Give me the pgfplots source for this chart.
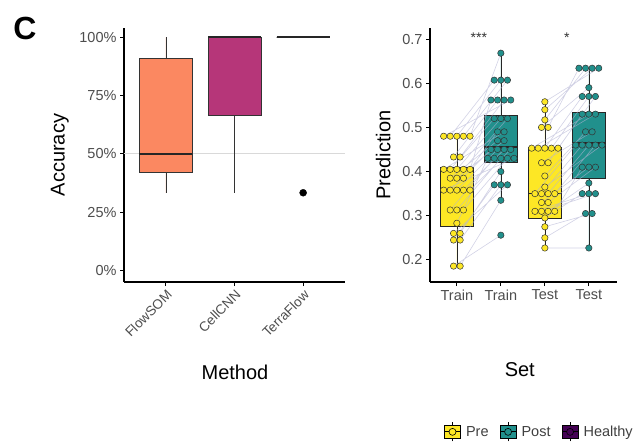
\documentclass[border=0pt]{standalone}
\usepackage{pgfplots}
\pgfplotsset{compat=1.18}
\usepgfplotslibrary{statistics}
\usepackage{fontspec}
\setmainfont{Liberation Sans}
\definecolor{flowsom}{HTML}{FB8861}
\definecolor{cellcnn}{HTML}{B63679}
\definecolor{preC}{HTML}{FDE725}
\definecolor{postC}{HTML}{21908C}
\definecolor{healthyC}{HTML}{440154}
\definecolor{tickgrey}{HTML}{4D4D4D}
\definecolor{pairline}{HTML}{B4B4D4}

\pgfplotsset{
  mystyle/.style={
    scale only axis,
    axis x line*=bottom, axis y line*=left,
    axis line style={line width=1.1pt, black},
    tick align=outside,
    major tick length=4pt,
    tick style={line width=0.9pt, black},
    tick label style={font=\fontsize{14.5}{16}\selectfont, text=tickgrey},
    label style={font=\fontsize{20}{22}\selectfont},
    clip=false,
    boxplot/draw direction=y,
    boxplot/whisker extend=0,
  },
  boxkey/.style={legend image code/.code={
    \draw[black, line width=0.7pt] (8pt,-9pt) -- (8pt,10pt);
    \draw[fill=#1, draw=black, line width=0.7pt] (0pt,-6pt) rectangle (16pt,7pt);
    \draw[black, line width=1pt] (0pt,0.5pt) -- (16pt,0.5pt);
    \draw[fill=#1, draw=black, line width=0.6pt] (8pt,0.5pt) circle (3.5pt);
  }},
}

\begin{document}
\begin{tikzpicture}
\useasboundingbox (0pt,0pt) rectangle (636pt,-444pt);
\node[font=\fontsize{32}{34}\selectfont\bfseries] at (25pt,-28pt) {C};

% ---------------- left panel ----------------
\begin{axis}[mystyle,
  at={(124pt,-282pt)}, anchor=south west,
  width=221pt, height=254pt,
  xmin=0.39, xmax=3.61, ymin=-5, ymax=104,
  xtick={1,2,3}, xticklabels={FlowSOM,CellCNN,TerraFlow},
  xticklabel style={rotate=45, anchor=north east, inner sep=2pt, font=\fontsize{13.5}{15}\selectfont},
  ytick={0,25,50,75,100}, yticklabels={0\%,25\%,50\%,75\%,100\%},
  ylabel={Accuracy}, xlabel={Method},
  ylabel style={at={(axis description cs:-0.29,0.5)}, anchor=center},
  xlabel style={at={(axis description cs:0.502,-0.354)}, anchor=center},
  boxplot/box extend=0.77,
]
\addplot[black!15, line width=0.9pt, forget plot] coordinates {(0.39,50) (3.61,50)};
\addplot[boxplot prepared={draw position=1, lower whisker=33.3, lower quartile=42, median=50, upper quartile=91, upper whisker=100},
  draw=black!80, fill=flowsom, line width=0.7pt, boxplot/every median/.style={line width=2.2pt, draw=black!85}, forget plot] coordinates {};
\addplot[boxplot prepared={draw position=2, lower whisker=33.3, lower quartile=66.7, median=100, upper quartile=100, upper whisker=100},
  draw=black!80, fill=cellcnn, line width=0.7pt, boxplot/every median/.style={line width=2.2pt, draw=black!85}, forget plot] coordinates {};
\addplot[boxplot prepared={draw position=3, lower whisker=100, lower quartile=100, median=100, upper quartile=100, upper whisker=100},
  draw=black!80, fill=white, line width=0.7pt, boxplot/every median/.style={line width=2.2pt, draw=black!85}, forget plot] coordinates {};
\addplot[only marks, mark=*, mark size=3.5pt, black, forget plot] coordinates {(3,33.3)};
\end{axis}

% ---------------- right panel ----------------
\begin{axis}[mystyle,
  at={(430pt,-282pt)}, anchor=south west,
  width=187pt, height=254pt,
  xmin=0.39, xmax=4.64, ymin=0.15, ymax=0.725,
  xtick={1,2,3,4}, xticklabels={Train,Train,Test,Test},
  ytick={0.2,0.3,0.4,0.5,0.6,0.7}, yticklabels={0.2,0.3,0.4,0.5,0.6,0.7},
  ylabel={Prediction}, xlabel={Set},
  ylabel style={at={(axis description cs:-0.25,0.5)}, anchor=center},
  xlabel style={at={(axis description cs:0.48,-0.346)}, anchor=center},
  boxplot/box extend=0.75,
  unbounded coords=jump,
  legend columns=3,
  legend style={at={(axis description cs:1.096,-0.59)}, anchor=east, draw=none, fill=none,
    font=\fontsize{14.5}{16}\selectfont, text=black!75, inner sep=0pt,
    /tikz/every odd column/.append style={column sep=3pt},
    /tikz/every even column/.append style={column sep=9pt}},
  legend cell align=left,
]
% boxes
\addplot[boxplot prepared={draw position=1, lower whisker=0.186, lower quartile=0.275, median=0.358, upper quartile=0.41, upper whisker=0.48},
  draw=black!85, fill=preC, line width=0.6pt, boxplot/every median/.style={line width=1.6pt}, forget plot] coordinates {};
\addplot[boxplot prepared={draw position=2, lower whisker=0.335, lower quartile=0.42, median=0.455, upper quartile=0.528, upper whisker=0.668},
  draw=black!85, fill=postC, line width=0.6pt, boxplot/every median/.style={line width=1.6pt}, forget plot] coordinates {};
\addplot[boxplot prepared={draw position=3, lower whisker=0.227, lower quartile=0.295, median=0.35, upper quartile=0.455, upper whisker=0.558},
  draw=black!85, fill=preC, line width=0.6pt, boxplot/every median/.style={line width=1.6pt}, forget plot] coordinates {};
\addplot[boxplot prepared={draw position=4, lower whisker=0.227, lower quartile=0.385, median=0.465, upper quartile=0.535, upper whisker=0.634},
  draw=black!85, fill=postC, line width=0.6pt, boxplot/every median/.style={line width=1.6pt}, forget plot] coordinates {};

% paired lines
\addplot[pairline, line width=0.6pt, opacity=0.6, forget plot] coordinates {
(0.925,0.186) (2.00,0.256) (1,nan)
(1.075,0.186) (2.00,0.335) (1,nan)
(0.925,0.245) (1.85,0.37) (1,nan)
(1.075,0.245) (2.00,0.37) (1,nan)
(0.925,0.26) (2.15,0.37) (1,nan)
(1.075,0.26) (2.00,0.40) (1,nan)
(1.00,0.283) (1.70,0.43) (1,nan)
(0.85,0.313) (1.85,0.43) (1,nan)
(1.00,0.313) (2.00,0.43) (1,nan)
(1.15,0.313) (2.15,0.43) (1,nan)
(0.70,0.358) (2.30,0.43) (1,nan)
(0.85,0.358) (1.775,0.45) (1,nan)
(1.00,0.358) (1.925,0.45) (1,nan)
(1.15,0.358) (2.075,0.45) (1,nan)
(1.30,0.358) (2.225,0.45) (1,nan)
(0.85,0.385) (1.925,0.47) (1,nan)
(1.00,0.385) (2.075,0.47) (1,nan)
(1.15,0.385) (1.925,0.49) (1,nan)
(0.70,0.405) (2.075,0.49) (1,nan)
(0.85,0.405) (1.85,0.52) (1,nan)
(1.00,0.405) (2.00,0.52) (1,nan)
(1.15,0.405) (2.15,0.52) (1,nan)
(1.30,0.405) (1.775,0.562) (1,nan)
(0.925,0.433) (1.925,0.562) (1,nan)
(1.075,0.433) (2.075,0.562) (1,nan)
(0.70,0.48) (2.225,0.562) (1,nan)
(0.85,0.48) (1.85,0.607) (1,nan)
(1.00,0.48) (2.00,0.607) (1,nan)
(1.15,0.48) (2.15,0.607) (1,nan)
(1.30,0.48) (2.00,0.668) (1,nan)
(3.00,0.227) (4.00,0.227) (1,nan)
(3.00,0.25) (3.925,0.305) (1,nan)
(3.00,0.275) (4.075,0.305) (1,nan)
(3.00,0.295) (3.85,0.35) (1,nan)
(2.775,0.31) (4.00,0.35) (1,nan)
(2.925,0.31) (4.15,0.35) (1,nan)
(3.075,0.31) (4.00,0.374) (1,nan)
(3.225,0.31) (3.85,0.41) (1,nan)
(2.925,0.33) (4.00,0.41) (1,nan)
(3.075,0.33) (4.15,0.41) (1,nan)
(2.775,0.35) (3.70,0.46) (1,nan)
(2.925,0.35) (3.85,0.46) (1,nan)
(3.075,0.35) (4.00,0.46) (1,nan)
(3.225,0.35) (4.15,0.46) (1,nan)
(3.00,0.365) (4.30,0.46) (1,nan)
(3.00,0.39) (3.925,0.49) (1,nan)
(2.925,0.42) (4.075,0.49) (1,nan)
(3.075,0.42) (3.85,0.53) (1,nan)
(2.70,0.453) (4.00,0.53) (1,nan)
(2.85,0.453) (4.15,0.53) (1,nan)
(3.00,0.453) (3.85,0.57) (1,nan)
(3.15,0.453) (4.00,0.57) (1,nan)
(3.30,0.453) (4.15,0.57) (1,nan)
(2.925,0.50) (4.00,0.59) (1,nan)
(3.075,0.50) (3.775,0.634) (1,nan)
(3.00,0.517) (3.925,0.634) (1,nan)
(3.00,0.54) (4.075,0.634) (1,nan)
(3.00,0.558) (4.225,0.634)
};

% points: pre
\addplot[only marks, mark=*, mark size=3.2pt, mark options={fill=preC, draw=black!80, line width=0.5pt}, forget plot] coordinates {
(0.925,0.186) (1.075,0.186) (0.925,0.245) (1.075,0.245) (0.925,0.26) (1.075,0.26)
(1.00,0.283) (0.85,0.313) (1.00,0.313) (1.15,0.313)
(0.70,0.358) (0.85,0.358) (1.00,0.358) (1.15,0.358) (1.30,0.358)
(0.85,0.385) (1.00,0.385) (1.15,0.385)
(0.70,0.405) (0.85,0.405) (1.00,0.405) (1.15,0.405) (1.30,0.405)
(0.925,0.433) (1.075,0.433)
(0.70,0.48) (0.85,0.48) (1.00,0.48) (1.15,0.48) (1.30,0.48)
(3.00,0.227) (3.00,0.25) (3.00,0.275) (3.00,0.295)
(2.775,0.31) (2.925,0.31) (3.075,0.31) (3.225,0.31)
(2.925,0.33) (3.075,0.33)
(2.775,0.35) (2.925,0.35) (3.075,0.35) (3.225,0.35)
(3.00,0.365) (3.00,0.39) (2.925,0.42) (3.075,0.42)
(2.70,0.453) (2.85,0.453) (3.00,0.453) (3.15,0.453) (3.30,0.453)
(2.925,0.50) (3.075,0.50) (3.00,0.517) (3.00,0.54) (3.00,0.558)
};
% points: post
\addplot[only marks, mark=*, mark size=3.2pt, mark options={fill=postC, draw=black!80, line width=0.5pt}, forget plot] coordinates {
(2.00,0.256) (2.00,0.335) (1.85,0.37) (2.00,0.37) (2.15,0.37) (2.00,0.40)
(1.70,0.43) (1.85,0.43) (2.00,0.43) (2.15,0.43) (2.30,0.43)
(1.775,0.45) (1.925,0.45) (2.075,0.45) (2.225,0.45)
(1.925,0.47) (2.075,0.47) (1.925,0.49) (2.075,0.49)
(1.85,0.52) (2.00,0.52) (2.15,0.52)
(1.775,0.562) (1.925,0.562) (2.075,0.562) (2.225,0.562)
(1.85,0.607) (2.00,0.607) (2.15,0.607) (2.00,0.668)
(4.00,0.227) (3.925,0.305) (4.075,0.305)
(3.85,0.35) (4.00,0.35) (4.15,0.35) (4.00,0.374)
(3.85,0.41) (4.00,0.41) (4.15,0.41)
(3.70,0.46) (3.85,0.46) (4.00,0.46) (4.15,0.46) (4.30,0.46)
(3.925,0.49) (4.075,0.49)
(3.85,0.53) (4.00,0.53) (4.15,0.53)
(3.85,0.57) (4.00,0.57) (4.15,0.57) (4.00,0.59)
(3.775,0.634) (3.925,0.634) (4.075,0.634) (4.225,0.634)
};

\node[font=\fontsize{14}{15}\selectfont, text=black!80] at (axis cs:1.5,0.703) {***};
\node[font=\fontsize{14}{15}\selectfont, text=black!80] at (axis cs:3.5,0.703) {*};

% legend
\addlegendimage{boxkey=preC}
\addlegendentry{Pre}
\addlegendimage{boxkey=postC}
\addlegendentry{Post}
\addlegendimage{boxkey=healthyC}
\addlegendentry{Healthy}
\end{axis}
\end{tikzpicture}
\end{document}
